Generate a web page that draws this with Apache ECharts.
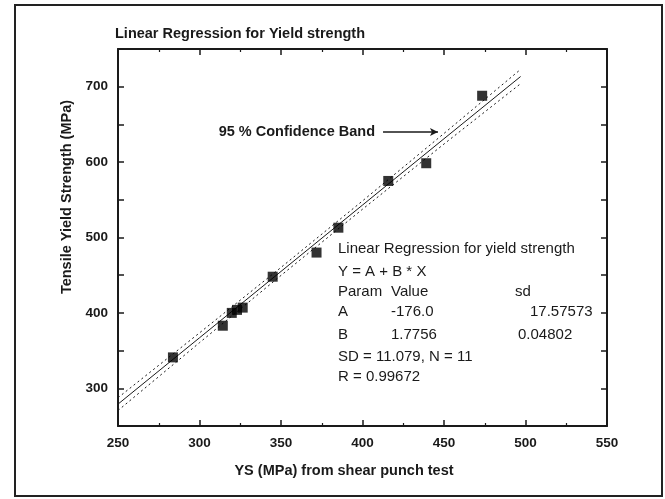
<!DOCTYPE html>
<html>
<head>
<meta charset="utf-8">
<script src="https://cdn.jsdelivr.net/npm/echarts@6/dist/echarts.min.js"></script>
<style>
  html, body { margin: 0; padding: 0; background: #fff; }
  #chart { width: 665px; height: 499px; }
</style>
</head>
<body>
<div id="chart"></div>
<script>
// measured points: YS from shear punch test vs tensile yield strength
const ysPunch = [283.7, 314.3, 319.8, 323, 326.5, 344.9, 371.8, 385.2, 415.8, 439.1, 473.4]
const tensileYS = [341, 383, 400, 404, 407, 448, 480, 513, 575, 598.5, 688]

// fitted line and 95% band
const fitX = [250, 300, 350, 400, 450, 497]
const fitY = [279, 367, 455, 543, 631, 713.5]
const bandUpper = [287.5, 373.5, 460.3, 548.5, 638, 723]
const bandLower = [270.5, 360.5, 449.7, 537.5, 624, 704]

const xTicks = [250, 300, 350, 400, 450, 500, 550]
const yTicks = [250, 300, 400, 500, 600, 700, 750]

const insetRows = [
  ['Linear Regression for yield strength'],
  ['Y = A + B * X'],
  ['Param', 'Value', 'sd'],
  ['A', '-176.0', '17.57573'],
  ['B', '1.7756', '0.04802'],
  ['SD = 11.079, N = 11'],
  ['R = 0.99672']
]

const FONT = '"Liberation Sans", Arial, sans-serif'
const INK = '#1a1a1a'

function pairs(xs, ys) {
  return xs.map((x, i) => [x, ys[i]])
}

const chart = echarts.init(document.getElementById('chart'))

// inset text block
const rowY = [249, 271.5, 292, 312, 335, 356.5, 377]
const col3X = [0, 0, 515, 530, 518]
const insetGraphics = []
insetRows.forEach((row, r) => {
  row.forEach((txt, c) => {
    insetGraphics.push({
      type: 'text',
      x: c === 0 ? 338 : (c === 1 ? 391 : col3X[r]),
      y: rowY[r],
      style: {
        text: txt,
        fill: INK,
        font: '15px ' + FONT,
        textAlign: 'left',
        textVerticalAlign: 'middle',
        align: 'left',
        verticalAlign: 'middle'
      }
    })
  })
})

function label(txt, x, y, align, rot) {
  return {
    type: 'text', x: x, y: y, rotation: rot || 0,
    style: { text: txt, fill: INK, font: 'bold 14.5px ' + FONT,
      textAlign: align, textVerticalAlign: 'middle', align: align, verticalAlign: 'middle' }
  }
}

const axisCommon = {
  type: 'value',
  axisLine: { show: true, onZero: false, lineStyle: { color: INK, width: 2 } },
  axisTick: { show: true, inside: true, length: 6, lineStyle: { color: INK, width: 1.5 } },
  minorTick: { show: true, splitNumber: 2, length: 3, lineStyle: { color: INK, width: 1.2 } },
  splitLine: { show: false },
  minorSplitLine: { show: false }
}

const option = {
  animation: false,
  backgroundColor: '#fff',
  grid: { left: 118, top: 49, right: 58, bottom: 73 },
  xAxis: [
    Object.assign({}, axisCommon, {
      min: xTicks[0], max: xTicks[xTicks.length - 1], interval: 50,
      axisLabel: { margin: 10, color: INK, fontFamily: FONT, fontSize: 13.5, fontWeight: 'bold' }
    }),
    Object.assign({}, axisCommon, {
      position: 'top',
      min: xTicks[0], max: xTicks[xTicks.length - 1], interval: 50,
      axisLabel: { show: false }
    })
  ],
  yAxis: [
    Object.assign({}, axisCommon, {
      min: yTicks[0], max: yTicks[yTicks.length - 1], interval: 50,
      axisLabel: {
        margin: 10, color: INK, fontFamily: FONT, fontSize: 13.5, fontWeight: 'bold',
        formatter: v => (v % 100 === 0 && v >= 300 && v <= 700 ? String(v) : '')
      },
      minorTick: { show: false }
    }),
    Object.assign({}, axisCommon, {
      position: 'right',
      min: yTicks[0], max: yTicks[yTicks.length - 1], interval: 50,
      axisLabel: { show: false },
      minorTick: { show: false }
    })
  ],
  series: [
    {
      type: 'line',
      data: pairs(fitX, fitY),
      showSymbol: false,
      lineStyle: { color: INK, width: 1 },
      z: 3,
      markLine: {
        silent: true,
        symbol: ['none', 'arrow'],
        symbolSize: [6, 8],
        lineStyle: { color: INK, width: 1.5, type: 'solid' },
        label: { show: false },
        data: [[{ coord: [412.6, 640] }, { coord: [446.3, 640] }]]
      }
    },
    {
      type: 'line',
      data: pairs(fitX, bandUpper),
      showSymbol: false,
      lineStyle: { color: INK, width: 1, type: [2, 3] },
      z: 3
    },
    {
      type: 'line',
      data: pairs(fitX, bandLower),
      showSymbol: false,
      lineStyle: { color: INK, width: 1, type: [2, 3] },
      z: 3
    },
    {
      type: 'scatter',
      data: pairs(ysPunch, tensileYS),
      symbol: 'rect',
      symbolSize: 10,
      itemStyle: { color: '#000' },
      z: 4
    }
  ],
  graphic: [
    {
      type: 'rect',
      shape: { x: 15, y: 5, width: 647, height: 491 },
      style: { fill: 'none', stroke: '#222', lineWidth: 2 },
      silent: true
    },
    label('Linear Regression for Yield strength', 115, 34, 'left'),
    label('Tensile Yield Strength (MPa)', 67, 197, 'center', Math.PI / 2),
    label('YS (MPa) from shear punch test', 344, 471, 'center'),
    label('95 % Confidence Band', 375, 132, 'right')
  ].concat(insetGraphics)
}

chart.setOption(option)
</script>
</body>
</html>
